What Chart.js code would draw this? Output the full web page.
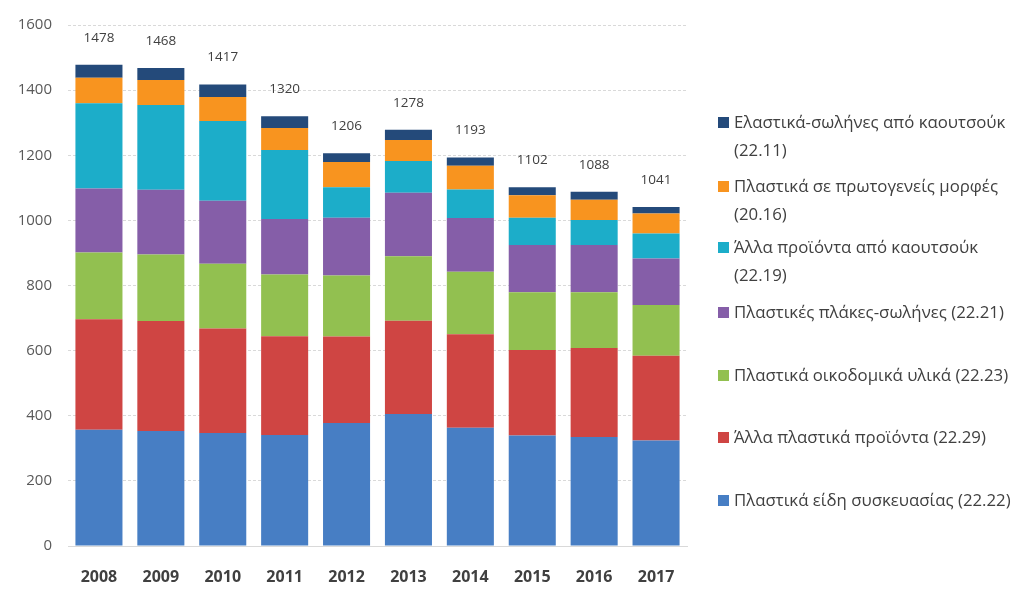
<!DOCTYPE html>
<html>
<head>
<meta charset="utf-8">
<script src="https://cdn.jsdelivr.net/npm/chart.js@4"></script>
<style>
  body { margin: 0; background: #fff; }
  #wrap { position: relative; width: 1025px; height: 589px; }
  #legend { position: absolute; left: 716px; top: 0; font-family: "Open Sans", sans-serif; font-size: 16.8px; color: #404040; }
  .item { position: absolute; left: 0; white-space: nowrap; line-height: 28px; }
  .box { position: absolute; left: 2px; top: 9px; width: 11px; height: 11px; }
  .txt { position: absolute; left: 18px; top: 0; }
</style>
</head>
<body>
<div id="wrap">
  <canvas id="chart" width="1025" height="589"></canvas>
  <div id="legend"></div>
</div>
<script>
const years = ["2008", "2009", "2010", "2011", "2012", "2013", "2014", "2015", "2016", "2017"];
const totals = [1478, 1468, 1417, 1320, 1206, 1278, 1193, 1102, 1088, 1041];

// bottom to top
const packaging = [357, 353, 347, 341, 378, 405, 363, 339, 335, 324];      // 22.22
const otherPlastics = [339, 338, 321, 303, 265, 287, 287, 263, 273, 260];  // 22.29
const building = [205, 204, 199, 190, 188, 198, 192, 177, 171, 156];       // 22.23
const platesPipes = [197, 199, 193, 170, 177, 195, 165, 145, 145, 143];    // 22.21
const otherRubber = [262, 260, 245, 212, 94, 97, 88, 84, 77, 77];          // 22.19
const primaryForms = [78, 77, 74, 68, 77, 65, 73, 69, 62, 61];             // 20.16
const rubberTubes = [40, 37, 38, 36, 27, 31, 25, 25, 25, 20];              // 22.11

const seriesNames = [
  "Πλαστικά είδη συσκευασίας (22.22)",
  "Άλλα πλαστικά προϊόντα (22.29)",
  "Πλαστικά οικοδομικά υλικά (22.23)",
  "Πλαστικές πλάκες-σωλήνες (22.21)",
  "Άλλα προϊόντα από καουτσούκ (22.19)",
  "Πλαστικά σε πρωτογενείς μορφές (20.16)",
  "Ελαστικά-σωλήνες από καουτσούκ (22.11)"
];
const seriesData = [packaging, otherPlastics, building, platesPipes, otherRubber, primaryForms, rubberTubes];
const colors = ["#477ec4", "#cf4543", "#92c050", "#855ea8", "#1cadc9", "#f8941f", "#244a7a"];

// legend (top to bottom, reversed order), real text
const legendRows = [
  { i: 6, top: 108, lines: ["Ελαστικά-σωλήνες από καουτσούκ", "(22.11)"] },
  { i: 5, top: 172, lines: ["Πλαστικά σε πρωτογενείς μορφές", "(20.16)"] },
  { i: 4, top: 233, lines: ["Άλλα προϊόντα από καουτσούκ", "(22.19)"] },
  { i: 3, top: 298, lines: ["Πλαστικές πλάκες-σωλήνες (22.21)"] },
  { i: 2, top: 361, lines: ["Πλαστικά οικοδομικά υλικά (22.23)"] },
  { i: 1, top: 423, lines: ["Άλλα πλαστικά προϊόντα (22.29)"] },
  { i: 0, top: 486, lines: ["Πλαστικά είδη συσκευασίας (22.22)"] }
];
let legendEl = document.getElementById("legend");
legendRows.forEach(function (row) {
  let d = document.createElement("div");
  d.className = "item";
  d.style.top = row.top + "px";
  d.innerHTML = '<span class="box" style="background:' + colors[row.i] + '"></span>' +
    '<span class="txt">' + row.lines.join("<br>") + "</span>";
  legendEl.appendChild(d);
});

// totals above the bars
const totalsPlugin = {
  id: "totals",
  afterDatasetsDraw(chart) {
    let ctx = chart.ctx;
    let meta = chart.getDatasetMeta(chart.data.datasets.length - 1);
    ctx.save();
    ctx.font = "13.5px 'Open Sans', sans-serif";
    ctx.fillStyle = "#404040";
    ctx.textAlign = "center";
    ctx.textBaseline = "middle";
    meta.data.forEach(function (bar, i) {
      let y = chart.scales.y.getPixelForValue(totals[i]);
      ctx.fillText(totals[i], bar.x, y - 27);
    });
    ctx.restore();
  }
};

let datasets = seriesData.map(function (d, i) {
  return {
    label: seriesNames[i],
    data: d,
    backgroundColor: colors[i],
    borderWidth: 0,
    barPercentage: 0.76,
    categoryPercentage: 1.0
  };
});

new Chart(document.getElementById("chart"), {
  type: "bar",
  data: { labels: years, datasets: datasets },
  plugins: [totalsPlugin],
  options: {
    responsive: false,
    animation: false,
    layout: { padding: { top: 4, right: 338, left: 0, bottom: 0 } },
    plugins: {
      legend: { display: false },
      tooltip: { enabled: false }
    },
    scales: {
      x: {
        stacked: true,
        grid: { display: false, drawTicks: false },
        border: { display: true, color: "#d9d9d9", width: 1 },
        ticks: {
          padding: 22,
          color: "#404040",
          font: { family: "'Open Sans', sans-serif", size: 16, weight: "bold" }
        },
        afterFit: function (scale) { scale.height = 43; }
      },
      y: {
        stacked: true,
        min: 0,
        max: 1600,
        ticks: {
          stepSize: 200,
          padding: 16,
          color: "#595959",
          font: { family: "'Open Sans', sans-serif", size: 15 },
          callback: function (value) { return String(value); }
        },
        grid: {
          color: "#d9d9d9",
          drawTicks: false
        },
        border: { display: false, dash: [3, 2] },
        afterFit: function (scale) { scale.width = 68; }
      }
    }
  }
});
</script>
</body>
</html>
